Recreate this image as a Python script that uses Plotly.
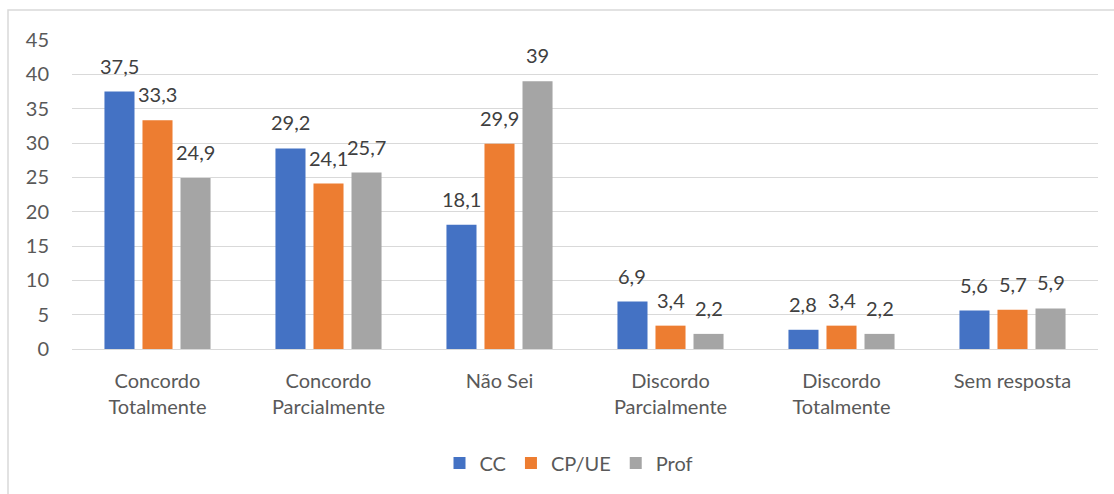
import plotly.graph_objects as go

# Categories and series values (percent)
categories = ["Concordo<br>Totalmente", "Concordo<br>Parcialmente", "Não Sei",
              "Discordo<br>Parcialmente", "Discordo<br>Totalmente", "Sem resposta"]
cc = [37.5, 29.2, 18.1, 6.9, 2.8, 5.6]
cp_ue = [33.3, 24.1, 29.9, 3.4, 3.4, 5.7]
prof = [24.9, 25.7, 39, 2.2, 2.2, 5.9]
y_ticks = [0, 5, 10, 15, 20, 25, 30, 35, 40, 45]

series = [("CC", cc, "#4472C4"), ("CP/UE", cp_ue, "#ED7D31"), ("Prof", prof, "#A5A5A5")]

BARGAP = 0.333
GROUPGAP = 0.21


def fmt(v):
    return f"{v:g}".replace(".", ",")


fig = go.Figure()
for name, vals, color in series:
    fig.add_trace(go.Bar(
        x=categories, y=vals, name=name,
        marker=dict(color=color, line=dict(width=0)),
    ))

# data labels, placed above each bar via the axes (Excel-like gap)
slot = (1 - BARGAP) / len(series)
for j, (name, vals, color) in enumerate(series):
    off = (j - (len(series) - 1) / 2) * slot
    for i, v in enumerate(vals):
        fig.add_annotation(x=i + off, y=v, xref="x", yref="y", text=fmt(v),
                           showarrow=False, yanchor="bottom", yshift=12,
                           font=dict(size=20, color="#404040"))

W, H = 1114, 494
L, R, T, B = 72, 16, 40, 145
pw = W - L - R
ph = H - T - B


def py(pix):
    # pixel row -> paper y
    return (H - B - pix) / ph


def px_(pix):
    return (pix - L) / pw


fig.update_layout(
    width=W, height=H,
    margin=dict(l=L, r=R, t=T, b=B, autoexpand=False),
    paper_bgcolor="white", plot_bgcolor="white",
    font=dict(family="Lato, Carlito, sans-serif", size=20, color="#595959"),
    barmode="group", bargap=BARGAP, bargroupgap=GROUPGAP,
    showlegend=True,
    legend=dict(orientation="h", x=px_(569), xanchor="center", y=py(463), yanchor="middle",
                font=dict(size=20, color="#595959"), itemwidth=30,
                traceorder="normal"),
)
fig.update_yaxes(range=[0, 45], tickvals=y_ticks, showgrid=True, gridcolor="#D9D9D9",
                 gridwidth=1, zeroline=True, zerolinecolor="#D9D9D9", zerolinewidth=1,
                 showline=False, ticks="", ticklabelstandoff=22, automargin=False)
fig.update_xaxes(showgrid=False, showline=False, ticks="", tickangle=0,
                 ticklabelstandoff=18, automargin=False)

# chart area border (Excel-like frame)
fig.add_shape(type="rect", xref="paper", yref="paper",
              x0=px_(8), x1=px_(W + 5), y0=py(H + 5), y1=py(10),
              line=dict(color="#D9D9D9", width=1.5), fillcolor="rgba(0,0,0,0)", layer="below")

fig.write_html("out.html", config={"displayModeBar": False},
               post_script="document.body.style.margin='0';")
